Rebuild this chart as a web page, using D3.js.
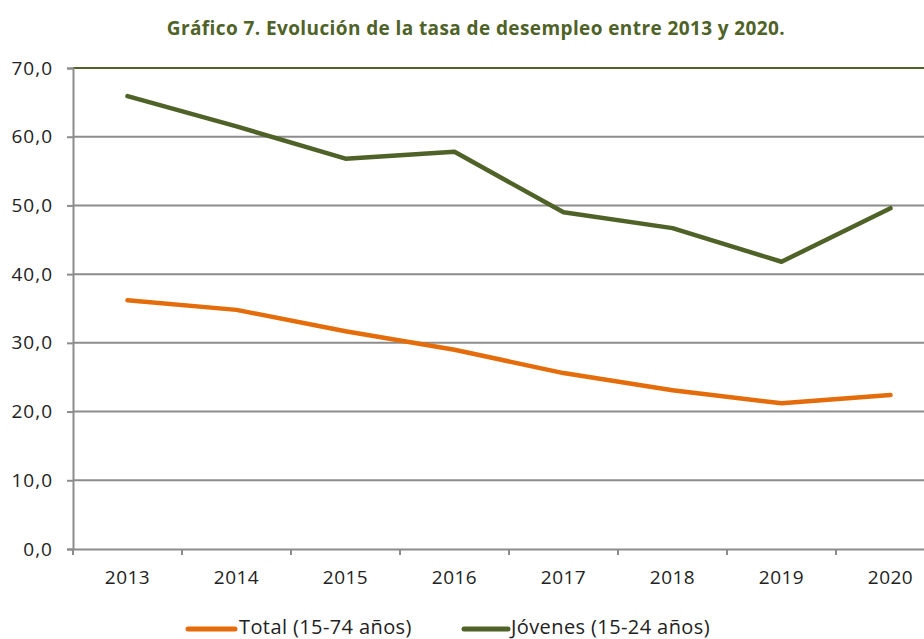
<!DOCTYPE html>
<html><head><meta charset="utf-8">
<script src="https://cdn.jsdelivr.net/npm/d3@7"></script>
<style>body{margin:0;background:#fff;} svg{display:block;}</style>
</head><body>
<svg id="c" width="924" height="639"></svg>
<script>
const years = ["2013","2014","2015","2016","2017","2018","2019","2020"];
const total = [36.2, 34.8, 31.7, 29.0, 25.6, 23.1, 21.2, 22.4];
const jovenes = [65.9, 61.5, 56.8, 57.8, 49.0, 46.7, 41.8, 49.6];
const yTicks = [0,10,20,30,40,50,60,70];
const seriesNames = ["Total (15-74 años)", "Jóvenes (15-24 años)"];
const title = "Gráfico 7. Evolución de la tasa de desempleo entre 2013 y 2020.";

const svg = d3.select("#c");
const font = "'Open Sans', sans-serif";
const x = d3.scaleBand().domain(years).range([73, 945]).padding(0);
const y = d3.scaleLinear().domain([0,70]).range([549, 68]);
const loc = d3.formatLocale({decimal:",", thousands:".", grouping:[3], currency:["","€"]});
const fmt = loc.format(".1f");

svg.append("text").attr("x", 476).attr("y", 35).attr("text-anchor","middle")
  .attr("font-family", font).attr("font-weight","bold").attr("font-size", 19)
  .attr("letter-spacing", 0.4).attr("fill","#4F6228").text(title);

// gridlines
svg.append("g").selectAll("line").data(yTicks.filter(d=>d>0)).join("line")
  .attr("x1", 73).attr("x2", 945).attr("y1", d=>y(d)).attr("y2", d=>y(d))
  .attr("stroke", d=> d===70 ? "#4F6228" : "#8c8c8c").attr("stroke-width", 2);

// y axis
const ya = svg.append("g").attr("transform","translate(73,0)")
  .call(d3.axisLeft(y).tickValues(yTicks).tickFormat(fmt).tickSize(6).tickPadding(14));
ya.select(".domain").attr("stroke","#8c8c8c").attr("stroke-width",2);
ya.selectAll(".tick line").attr("stroke","#8c8c8c").attr("stroke-width",2);
ya.selectAll("text").attr("font-family",font).attr("font-size",19).attr("letter-spacing",1).attr("fill","#222");

// x axis
const xa = svg.append("g").attr("transform","translate(0,549)")
  .call(d3.axisBottom(x).tickSize(0).tickPadding(22));
xa.select(".domain").attr("stroke","#8c8c8c").attr("stroke-width",2);
xa.selectAll("text").attr("font-family",font).attr("font-size",19).attr("letter-spacing",0.5).attr("fill","#222");
xa.selectAll("line.bound").data(years).join("line").attr("class","bound")
  .attr("x1", d=>x(d)).attr("x2", d=>x(d)).attr("y1",0).attr("y2",6)
  .attr("stroke","#8c8c8c").attr("stroke-width",2);

const line = d3.line().x((d,i)=>x(years[i])+x.bandwidth()/2).y(d=>y(d));
svg.append("path").datum(total).attr("d", line).attr("fill","none")
  .attr("stroke","#E46C0A").attr("stroke-width",4.5).attr("stroke-linecap","round").attr("stroke-linejoin","round");
svg.append("path").datum(jovenes).attr("d", line).attr("fill","none")
  .attr("stroke","#4F6228").attr("stroke-width",4.5).attr("stroke-linecap","round").attr("stroke-linejoin","round");

// legend
const leg = [
  {name: seriesNames[0], color:"#E46C0A", x1:188, x2:235, tx:239},
  {name: seriesNames[1], color:"#4F6228", x1:464, x2:508, tx:511}
];
leg.forEach(l=>{
  svg.append("line").attr("x1",l.x1).attr("x2",l.x2).attr("y1",629).attr("y2",629)
    .attr("stroke",l.color).attr("stroke-width",5).attr("stroke-linecap","round");
  svg.append("text").attr("x",l.tx).attr("y",634).attr("font-family",font).attr("font-size",20)
    .attr("letter-spacing",0.4).attr("fill","#222").text(l.name);
});
</script>
</body></html>
